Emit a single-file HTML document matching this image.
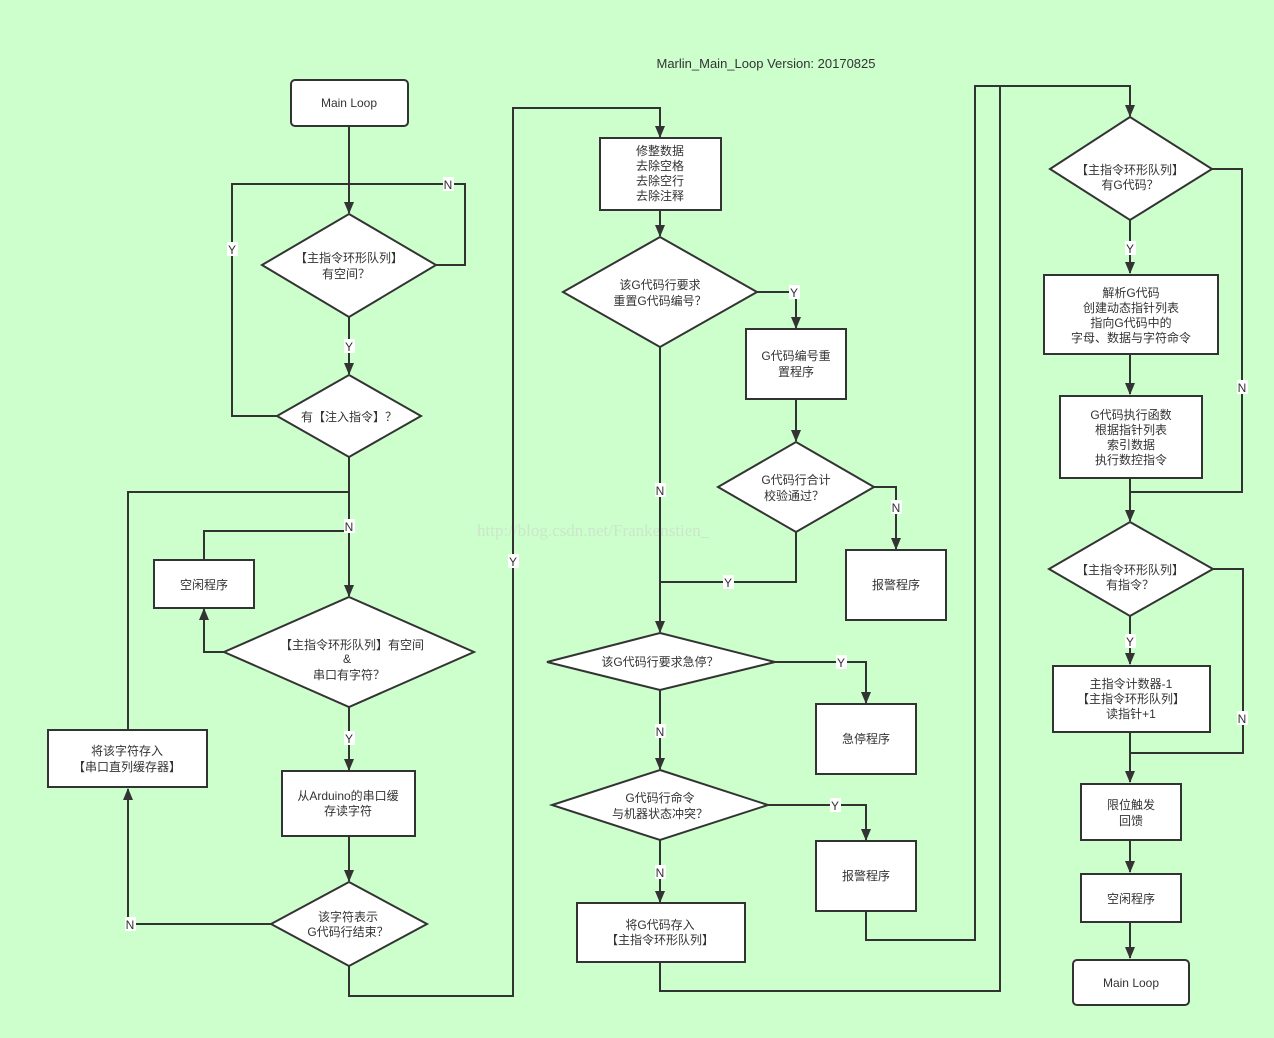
<!DOCTYPE html>
<html><head><meta charset="utf-8"><style>
html,body{margin:0;padding:0;background:#ccffcc;}
svg{display:block;}
text{font-family:"Liberation Sans","Noto Sans CJK SC",sans-serif;font-size:12px;fill:#333;}
.l{fill:none;stroke:#333;stroke-width:2;}
.s{fill:#fff;stroke:#333;stroke-width:2;}
.lb{fill:#fff;}
</style></head><body>
<svg width="1274" height="1038" viewBox="0 0 1274 1038" xmlns="http://www.w3.org/2000/svg">
<defs><marker id="a" markerWidth="12" markerHeight="10" refX="11" refY="5" orient="auto" markerUnits="userSpaceOnUse"><path d="M0,0 L12,5 L0,10 z" fill="#333"/></marker></defs>
<rect width="1274" height="1038" fill="#ccffcc"/>
<text x="766" y="68" text-anchor="middle" style="font-size:13px">Marlin_Main_Loop  Version: 20170825</text>
<text x="477" y="536" style="font-family:'Liberation Serif',serif;font-size:17px;fill:#ccc;opacity:.5">http://blog.csdn.net/Frankenstien_</text>

<path class="l" d="M349,126 V213" marker-end="url(#a)"/>
<path class="l" d="M436,265 H465 V184 H232 V416 H277"/>
<path class="l" d="M349,317 V374" marker-end="url(#a)"/>
<path class="l" d="M349,457 V596" marker-end="url(#a)"/>
<path class="l" d="M128,730 V492 H349"/>
<path class="l" d="M204,560 V531 H349"/>
<path class="l" d="M224,652 H204 V609" marker-end="url(#a)"/>
<path class="l" d="M349,707 V770" marker-end="url(#a)"/>
<path class="l" d="M349,836 V881" marker-end="url(#a)"/>
<path class="l" d="M271,924 H128 V789" marker-end="url(#a)"/>
<path class="l" d="M349,966 V996 H513 V108 H660 V137" marker-end="url(#a)"/>
<path class="l" d="M660,210 V236" marker-end="url(#a)"/>
<path class="l" d="M757,292 H796 V328" marker-end="url(#a)"/>
<path class="l" d="M796,399 V441" marker-end="url(#a)"/>
<path class="l" d="M874,487 H896 V549" marker-end="url(#a)"/>
<path class="l" d="M796,532 V582 H660"/>
<path class="l" d="M660,347 V632" marker-end="url(#a)"/>
<path class="l" d="M775,662 H866 V703" marker-end="url(#a)"/>
<path class="l" d="M660,690 V769" marker-end="url(#a)"/>
<path class="l" d="M768,805 H866 V840" marker-end="url(#a)"/>
<path class="l" d="M660,840 V902" marker-end="url(#a)"/>
<path class="l" d="M866,911 V940 H975 V86 H1130 V116" marker-end="url(#a)"/>
<path class="l" d="M660,962 V991 H1000 V86"/>
<path class="l" d="M1130,220 V273" marker-end="url(#a)"/>
<path class="l" d="M1130,354 V394" marker-end="url(#a)"/>
<path class="l" d="M1212,169 H1242 V492 H1130"/>
<path class="l" d="M1130,478 V521" marker-end="url(#a)"/>
<path class="l" d="M1130,616 V664" marker-end="url(#a)"/>
<path class="l" d="M1213,569 H1243 V753 H1130"/>
<path class="l" d="M1130,732 V782" marker-end="url(#a)"/>
<path class="l" d="M1130,840 V872" marker-end="url(#a)"/>
<path class="l" d="M1130,922 V958" marker-end="url(#a)"/>

<rect class="s" x="291" y="80" width="117" height="46" rx="4"/>
<text x="349" y="107" text-anchor="middle">Main Loop</text>
<polygon class="s" points="349,214 436,265 349,317 262,265"/>
<text x="349" y="262" text-anchor="middle">【主指令环形队列】</text>
<text x="346" y="278" text-anchor="middle">有空间？</text>
<polygon class="s" points="349,375 421,416 349,457 277,416"/>
<text x="349" y="421" text-anchor="middle">有【注入指令】？</text>
<rect class="s" x="154" y="560" width="100" height="48"/>
<text x="204" y="589" text-anchor="middle">空闲程序</text>
<polygon class="s" points="349,597 474,652 349,707 224,652"/>
<text x="352" y="649" text-anchor="middle">【主指令环形队列】有空间</text>
<text x="347" y="663" text-anchor="middle">&amp;</text>
<text x="349" y="679" text-anchor="middle">串口有字符？</text>
<rect class="s" x="48" y="730" width="159" height="57"/>
<text x="127" y="755" text-anchor="middle">将该字符存入</text>
<text x="127" y="771" text-anchor="middle">【串口直列缓存器】</text>
<rect class="s" x="282" y="771" width="133" height="65"/>
<text x="348" y="800" text-anchor="middle">从Arduino的串口缓</text>
<text x="348" y="815" text-anchor="middle">存读字符</text>
<polygon class="s" points="349,882 427,924 349,966 271,924"/>
<text x="348" y="921" text-anchor="middle">该字符表示</text>
<text x="348" y="936" text-anchor="middle">G代码行结束？</text>

<rect class="s" x="600" y="138" width="121" height="72"/>
<text x="660" y="155" text-anchor="middle">修整数据</text>
<text x="660" y="170" text-anchor="middle">去除空格</text>
<text x="660" y="185" text-anchor="middle">去除空行</text>
<text x="660" y="200" text-anchor="middle">去除注释</text>
<polygon class="s" points="660,237 757,292 660,347 563,292"/>
<text x="660" y="289" text-anchor="middle">该G代码行要求</text>
<text x="660" y="305" text-anchor="middle">重置G代码编号？</text>
<rect class="s" x="746" y="329" width="100" height="70"/>
<text x="796" y="360" text-anchor="middle">G代码编号重</text>
<text x="796" y="376" text-anchor="middle">置程序</text>
<polygon class="s" points="796,442 874,487 796,532 718,487"/>
<text x="796" y="484" text-anchor="middle">G代码行合计</text>
<text x="794" y="500" text-anchor="middle">校验通过？</text>
<rect class="s" x="846" y="550" width="100" height="70"/>
<text x="896" y="589" text-anchor="middle">报警程序</text>
<polygon class="s" points="660,633 775,662 660,690 547,662"/>
<text x="660" y="666" text-anchor="middle">该G代码行要求急停？</text>
<rect class="s" x="816" y="704" width="100" height="70"/>
<text x="866" y="743" text-anchor="middle">急停程序</text>
<polygon class="s" points="660,770 768,805 660,840 552,805"/>
<text x="660" y="802" text-anchor="middle">G代码行命令</text>
<text x="660" y="818" text-anchor="middle">与机器状态冲突？</text>
<rect class="s" x="816" y="841" width="100" height="70"/>
<text x="866" y="880" text-anchor="middle">报警程序</text>
<rect class="s" x="577" y="903" width="168" height="59"/>
<text x="660" y="929" text-anchor="middle">将G代码存入</text>
<text x="660" y="944" text-anchor="middle">【主指令环形队列】</text>

<polygon class="s" points="1130,117 1212,169 1130,220 1050,169"/>
<text x="1130" y="174" text-anchor="middle">【主指令环形队列】</text>
<text x="1130" y="189" text-anchor="middle">有G代码？</text>
<rect class="s" x="1044" y="275" width="174" height="79"/>
<text x="1131" y="297" text-anchor="middle">解析G代码</text>
<text x="1131" y="312" text-anchor="middle">创建动态指针列表</text>
<text x="1131" y="327" text-anchor="middle">指向G代码中的</text>
<text x="1131" y="342" text-anchor="middle">字母、数据与字符命令</text>
<rect class="s" x="1060" y="396" width="142" height="82"/>
<text x="1131" y="419" text-anchor="middle">G代码执行函数</text>
<text x="1131" y="434" text-anchor="middle">根据指针列表</text>
<text x="1131" y="449" text-anchor="middle">索引数据</text>
<text x="1131" y="464" text-anchor="middle">执行数控指令</text>
<polygon class="s" points="1130,522 1213,569 1130,616 1049,569"/>
<text x="1130" y="574" text-anchor="middle">【主指令环形队列】</text>
<text x="1130" y="589" text-anchor="middle">有指令？</text>
<rect class="s" x="1053" y="666" width="157" height="66"/>
<text x="1131" y="688" text-anchor="middle">主指令计数器-1</text>
<text x="1131" y="703" text-anchor="middle">【主指令环形队列】</text>
<text x="1131" y="718" text-anchor="middle">读指针+1</text>
<rect class="s" x="1081" y="784" width="100" height="56"/>
<text x="1131" y="809" text-anchor="middle">限位触发</text>
<text x="1131" y="825" text-anchor="middle">回馈</text>
<rect class="s" x="1081" y="874" width="100" height="48"/>
<text x="1131" y="903" text-anchor="middle">空闲程序</text>
<rect class="s" x="1073" y="960" width="116" height="45" rx="4"/>
<text x="1131" y="987" text-anchor="middle">Main Loop</text>

<g>
<rect class="lb" x="443" y="177" width="11" height="14"/><text x="448" y="189" text-anchor="middle">N</text>
<rect class="lb" x="227" y="242" width="11" height="14"/><text x="232" y="254" text-anchor="middle">Y</text>
<rect class="lb" x="344" y="339" width="11" height="14"/><text x="349" y="351" text-anchor="middle">Y</text>
<rect class="lb" x="344" y="519" width="11" height="14"/><text x="349" y="531" text-anchor="middle">N</text>
<rect class="lb" x="344" y="731" width="11" height="14"/><text x="349" y="743" text-anchor="middle">Y</text>
<rect class="lb" x="125" y="917" width="11" height="14"/><text x="130" y="929" text-anchor="middle">N</text>
<rect class="lb" x="508" y="554" width="11" height="14"/><text x="513" y="566" text-anchor="middle">Y</text>
<rect class="lb" x="789" y="285" width="11" height="14"/><text x="794" y="297" text-anchor="middle">Y</text>
<rect class="lb" x="891" y="500" width="11" height="14"/><text x="896" y="512" text-anchor="middle">N</text>
<rect class="lb" x="723" y="575" width="11" height="14"/><text x="728" y="587" text-anchor="middle">Y</text>
<rect class="lb" x="655" y="483" width="11" height="14"/><text x="660" y="495" text-anchor="middle">N</text>
<rect class="lb" x="836" y="655" width="11" height="14"/><text x="841" y="667" text-anchor="middle">Y</text>
<rect class="lb" x="655" y="724" width="11" height="14"/><text x="660" y="736" text-anchor="middle">N</text>
<rect class="lb" x="830" y="798" width="11" height="14"/><text x="835" y="810" text-anchor="middle">Y</text>
<rect class="lb" x="655" y="865" width="11" height="14"/><text x="660" y="877" text-anchor="middle">N</text>
<rect class="lb" x="1125" y="241" width="11" height="14"/><text x="1130" y="253" text-anchor="middle">Y</text>
<rect class="lb" x="1237" y="380" width="11" height="14"/><text x="1242" y="392" text-anchor="middle">N</text>
<rect class="lb" x="1125" y="634" width="11" height="14"/><text x="1130" y="646" text-anchor="middle">Y</text>
<rect class="lb" x="1237" y="711" width="11" height="14"/><text x="1242" y="723" text-anchor="middle">N</text>
</g>
</svg>
</body></html>
